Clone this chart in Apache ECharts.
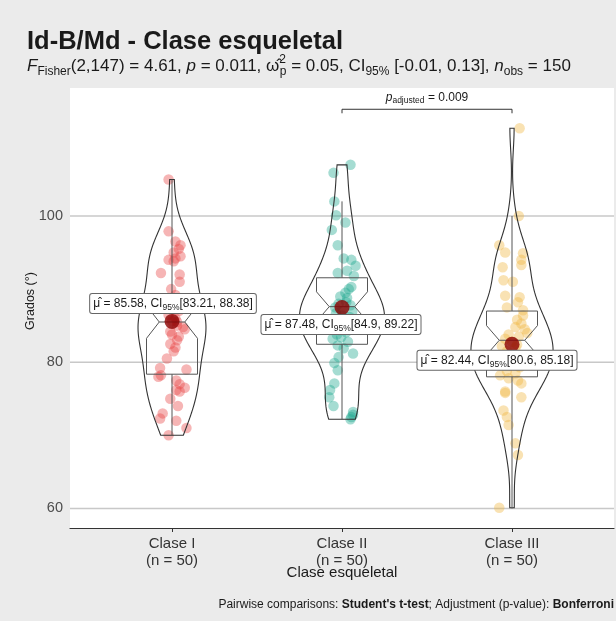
<!DOCTYPE html>
<html>
<head>
<meta charset="utf-8">
<script src="https://cdn.jsdelivr.net/npm/echarts@6/dist/echarts.min.js"></script>
<style>
  html, body { margin: 0; padding: 0; background: #ebebeb; }
  #chart { width: 616px; height: 621px; }
</style>
</head>
<body>
<div id="chart"></div>
<script>
// ---- data ----------------------------------------------------------------
const categories = ['Clase I', 'Clase II', 'Clase III'];
const groupSizes = [50, 50, 50];

// observed angles (degrees) per skeletal class, with their horizontal jitter (category units)
const claseIValues = [105.0, 97.9, 96.5, 96.0, 95.5, 95.0, 94.5, 94.2, 94.0, 93.8,
  92.2, 92.0, 91.0, 90.0, 89.2, 88.5, 88.0, 87.5, 87.0, 86.5,
  86.0, 85.6, 85.5, 85.0, 84.8, 84.5, 84.2, 83.8, 83.5, 83.0,
  82.5, 82.0, 81.5, 80.5, 79.2, 79.0, 78.2, 78.0, 77.5, 77.0,
  76.5, 76.2, 76.0, 75.0, 74.0, 73.0, 72.3, 72.0, 71.0, 70.0];
const claseIJitter = [-0.02, -0.02, 0.02, 0.05, 0.04, 0.01, 0.05, 0.02, -0.02, 0.01,
  -0.065, 0.045, 0.045, -0.005, 0.02, 0.03, -0.03, 0.0, 0.04, -0.02,
  0.02, 0.0, 0.03, 0.03, 0.065, 0.075, -0.01, 0.0, 0.04, 0.03,
  -0.01, 0.02, 0.01, -0.03, -0.07, 0.085, -0.065, -0.08, 0.025, 0.045,
  0.075, 0.025, 0.045, -0.01, 0.035, -0.055, -0.07, 0.025, 0.085, -0.02];

const claseIIValues = [107.0, 105.9, 102.0, 100.1, 99.1, 98.1, 96.0, 94.2, 94.0, 93.2,
  92.5, 92.2, 91.8, 90.3, 90.0, 89.5, 89.0, 88.8, 88.2, 88.0,
  87.8, 87.5, 87.0, 86.9, 86.7, 86.4, 86.2, 85.5, 85.0, 84.8,
  84.4, 84.1, 83.8, 83.4, 83.2, 82.8, 82.3, 81.9, 81.2, 80.7,
  79.9, 78.9, 77.1, 76.2, 75.2, 74.0, 73.2, 72.8, 72.5, 72.2];
const claseIIJitter = [0.05, -0.05, -0.045, -0.035, 0.02, -0.06, -0.025, 0.01, 0.055, 0.08,
  0.03, -0.025, 0.07, 0.055, 0.04, 0.02, -0.01, 0.03, 0.025, -0.02,
  0.05, -0.04, 0.0, 0.06, -0.035, 0.0, 0.045, -0.05, 0.03, -0.055,
  -0.015, 0.025, -0.03, -0.005, -0.055, 0.035, -0.025, 0.01, 0.065, -0.02,
  -0.045, -0.025, -0.045, -0.07, -0.075, -0.05, 0.065, 0.065, 0.055, 0.05];

const claseIIIValues = [112.0, 100.0, 96.0, 95.0, 94.9, 94.0, 93.3, 93.0, 91.2, 91.0,
  89.1, 88.9, 88.2, 87.5, 87.1, 86.4, 85.8, 85.3, 84.8, 84.5,
  84.0, 83.8, 83.5, 83.2, 82.8, 82.4, 82.2, 82.0, 81.5, 81.0,
  80.5, 80.0, 79.9, 79.6, 79.3, 78.8, 78.5, 78.2, 77.8, 77.5,
  77.1, 76.0, 75.8, 75.2, 73.4, 72.5, 71.4, 68.9, 67.3, 60.1];
const claseIIIJitter = [0.045, 0.04, -0.075, -0.04, 0.065, 0.055, 0.055, -0.055, -0.05, 0.005,
  -0.04, 0.045, 0.035, -0.03, 0.065, 0.065, 0.03, 0.055, 0.02, 0.075,
  0.09, -0.02, 0.04, -0.04, 0.0, 0.03, -0.06, 0.02, -0.03, 0.05,
  -0.05, 0.01, -0.07, -0.01, 0.045, -0.03, 0.02, -0.07, -0.02, 0.035,
  0.055, -0.04, -0.04, 0.055, -0.05, -0.03, -0.02, 0.02, 0.035, -0.075];

// group means with 95% confidence intervals
const meanValues = [85.58, 87.48, 82.44];
const ciLow = [83.21, 84.9, 80.6];
const ciHigh = [88.38, 89.22, 85.18];

// box plot statistics
const whiskerLow = [70.0, 72.2, 60.0];
const quartile1 = [78.36, 82.45, 78.0];
const medians = [85.5, 87.6, 83.0];
const quartile3 = [88.36, 91.55, 87.0];
const whiskerHigh = [105.0, 102.0, 100.0];

const yTicks = [60, 80, 100];
const pairwise = [{ from: 1, to: 2, p: '0.009' }];

// ---- layout / style constants ------------------------------------------------
const FONT = 'Liberation Sans, Arial, sans-serif';
const groupColors = ['rgba(233,71,71,0.5)', 'rgba(31,167,143,0.5)', 'rgba(239,183,65,0.5)'];
const labelOffsets = [[1, -18], [-1, 17], [-15, 16]];
const bracketY = 114.6;
const Y_MIN = 57.32, Y_MAX = 117.51;

const groups = [
  { values: claseIValues, jitter: claseIJitter },
  { values: claseIIValues, jitter: claseIIJitter },
  { values: claseIIIValues, jitter: claseIIIJitter }
];

// Gaussian kernel density (Silverman's nrd0 bandwidth), trimmed to the data range
function density(values, steps) {
  const n = values.length;
  const s = values.slice().sort((a, b) => a - b);
  const mean = values.reduce((a, v) => a + v, 0) / n;
  const sd = Math.sqrt(values.reduce((a, v) => a + (v - mean) * (v - mean), 0) / (n - 1));
  const q = p => { const h = (n - 1) * p, lo = Math.floor(h); return s[lo] + (h - lo) * (s[Math.min(lo + 1, n - 1)] - s[lo]); };
  const bw = 0.9 * Math.min(sd, (q(0.75) - q(0.25)) / 1.34) * Math.pow(n, -0.2);
  const out = [];
  for (let i = 0; i < steps; i++) {
    const y = s[0] + (s[n - 1] - s[0]) * i / (steps - 1);
    let d = 0;
    for (const v of values) { const z = (y - v) / bw; d += Math.exp(-0.5 * z * z); }
    out.push([y, d / (n * bw * Math.sqrt(2 * Math.PI))]);
  }
  return out;
}
const densities = groups.map(g => density(g.values, 160));
const maxDensity = Math.max(...densities.map(d => Math.max(...d.map(p => p[1]))));
const VIOLIN_HALF = 0.25, BOX_HALF = 0.15, NOTCH_HALF = 0.075;

const pointSeries = groups.map((g, i) => ({
  type: 'scatter',
  z: 2,
  symbolSize: 10.5,
  itemStyle: { color: groupColors[i] },
  silent: true,
  data: g.values.map((v, k) => [i + g.jitter[k], v])
}));

const chart = echarts.init(document.getElementById('chart'), null, { renderer: 'canvas' });

chart.setOption({
  backgroundColor: '#ebebeb',
  animation: false,
  grid: { left: 70, right: 2, top: 88, bottom: 93, show: true, backgroundColor: '#ffffff', borderWidth: 0 },
  xAxis: {
    type: 'value', min: -0.6, max: 2.6,
    name: 'Clase esqueletal', nameLocation: 'middle', nameGap: 37, nameMoveOverlap: false,
    nameTextStyle: { fontFamily: FONT, fontSize: 15, color: '#1a1a1a' },
    axisLine: { show: true, lineStyle: { color: '#333333', width: 1.2 } },
    axisTick: { show: true, customValues: [0, 1, 2], length: 4, lineStyle: { color: '#333333' } },
    axisLabel: {
      customValues: [0, 1, 2], margin: 8,
      formatter: v => categories[Math.round(v)] + '\n(n = ' + groupSizes[Math.round(v)] + ')',
      fontFamily: FONT, fontSize: 15, lineHeight: 16.5, color: '#333333'
    },
    splitLine: { show: false }
  },
  yAxis: {
    type: 'value', min: Y_MIN, max: Y_MAX,
    name: 'Grados (°)', nameLocation: 'middle', nameGap: 33, nameMoveOverlap: false,
    nameTextStyle: { fontFamily: FONT, fontSize: 12.5, color: '#1a1a1a', padding: [0, 0, 0, 14] },
    axisLine: { show: false },
    axisTick: { show: false },
    axisLabel: { customValues: yTicks, margin: 7, fontFamily: FONT, fontSize: 14.5, color: '#4d4d4d' },
    splitLine: { show: false }
  },
  graphic: [
    {
      type: 'text', x: 27, y: 42,
      style: { text: 'Id-B/Md - Clase esqueletal', font: 'bold 25.5px ' + FONT, fill: '#1a1a1a', verticalAlign: 'middle' }
    },
    {
      type: 'text', x: 27, y: 66,
      style: {
        text: '{i|F}{b|Fisher}{n|(2,147) = 4.61, }{i|p}{n| = 0.011, }{n|ω̂}{sp|2}{b|p}{n| = 0.05, CI}{b|95%}{n| [-0.01, 0.13], }{i|n}{b|obs}{n| = 150}',
        verticalAlign: 'middle',
        rich: {
          n: { fontFamily: FONT, fontSize: 17, fill: '#1a1a1a', lineHeight: 24, verticalAlign: 'middle' },
          i: { fontFamily: FONT, fontSize: 17, fontStyle: 'italic', fill: '#1a1a1a', lineHeight: 24, verticalAlign: 'middle' },
          b: { fontFamily: FONT, fontSize: 12, fill: '#1a1a1a', lineHeight: 24, verticalAlign: 'bottom' },
          sp: { fontFamily: FONT, fontSize: 12, fill: '#1a1a1a', lineHeight: 24, verticalAlign: 'top', width: 0.5 }
        }
      }
    },
    {
      type: 'text', x: 614, y: 605,
      style: {
        text: "{n|Pairwise comparisons: }{b|Student's t-test}{n|; Adjustment (p-value): }{b|Bonferroni}",
        align: 'right', verticalAlign: 'middle',
        rich: {
          n: { fontFamily: FONT, fontSize: 12, fill: '#1a1a1a' },
          b: { fontFamily: FONT, fontSize: 12, fontWeight: 'bold', fill: '#1a1a1a' }
        }
      }
    }
  ],
  series: [
    // horizontal reference lines at the y ticks
    {
      type: 'custom', z: 1, silent: true,
      data: yTicks.map(v => [v]),
      renderItem: (params, api) => {
        const v = api.value(0);
        const a = api.coord([-0.6, v]), b = api.coord([2.6, v]);
        return { type: 'line', shape: { x1: a[0], y1: a[1], x2: b[0], y2: b[1] }, style: { stroke: '#c8c8c8', lineWidth: 1.5 } };
      }
    },
    ...pointSeries,
    // violins
    {
      type: 'custom', z: 3, silent: true,
      data: categories.map((c, i) => [i]),
      renderItem: (params, api) => {
        const g = params.dataIndex;
        const d = densities[g];
        const right = d.map(p => api.coord([g + VIOLIN_HALF * p[1] / maxDensity, p[0]]));
        const left = d.slice().reverse().map(p => api.coord([g - VIOLIN_HALF * p[1] / maxDensity, p[0]]));
        return { type: 'polygon', shape: { points: right.concat(left) }, style: { fill: 'none', stroke: '#333333', lineWidth: 1.1 } };
      }
    },
    // notched box plots
    {
      type: 'custom', z: 4, silent: true,
      data: categories.map((c, i) => [i]),
      renderItem: (params, api) => {
        const g = params.dataIndex;
        const q1 = quartile1[g], q3 = quartile3[g], med = medians[g];
        const notch = 1.58 * (q3 - q1) / Math.sqrt(groupSizes[g]);
        const c = (x, y) => api.coord([g + x, y]);
        const box = [
          c(-BOX_HALF, q3), c(BOX_HALF, q3), c(BOX_HALF, med + notch), c(NOTCH_HALF, med),
          c(BOX_HALF, med - notch), c(BOX_HALF, q1), c(-BOX_HALF, q1), c(-BOX_HALF, med - notch),
          c(-NOTCH_HALF, med), c(-BOX_HALF, med + notch)
        ];
        const st = { stroke: '#555555', lineWidth: 1, fill: 'none' };
        const seg = (p1, p2) => ({ type: 'line', shape: { x1: p1[0], y1: p1[1], x2: p2[0], y2: p2[1] }, style: st });
        return {
          type: 'group',
          children: [
            seg(c(0, q3), c(0, whiskerHigh[g])),
            seg(c(0, q1), c(0, whiskerLow[g])),
            { type: 'polygon', shape: { points: box }, style: st },
            seg(c(-NOTCH_HALF, med), c(NOTCH_HALF, med))
          ]
        };
      }
    },
    // group means
    {
      type: 'scatter', z: 5, silent: true,
      symbolSize: 15,
      itemStyle: { color: '#8b0000' },
      data: meanValues.map((m, i) => [i, m])
    },
    // mean labels
    {
      type: 'custom', z: 6, silent: true,
      data: meanValues.map((m, i) => [i, m]),
      renderItem: (params, api) => {
        const g = params.dataIndex;
        const p = api.coord([api.value(0), api.value(1)]);
        return {
          type: 'text',
          x: p[0] + labelOffsets[g][0], y: p[1] + labelOffsets[g][1],
          style: {
            text: '{t|μ̂ = ' + meanValues[g].toFixed(2) + ', CI}{s|95%}{t|[' + ciLow[g] + ', ' + ciHigh[g] + ']}',
            align: 'center', verticalAlign: 'middle',
            backgroundColor: '#ffffff', borderColor: '#666666', borderWidth: 1, borderRadius: 2,
            padding: [2, 3, 1, 3],
            rich: {
              t: { fontFamily: FONT, fontSize: 12, fill: '#1a1a1a', lineHeight: 16, verticalAlign: 'middle' },
              s: { fontFamily: FONT, fontSize: 8.5, fill: '#1a1a1a', lineHeight: 16, verticalAlign: 'bottom' }
            }
          }
        };
      }
    },
    // pairwise comparison bracket
    {
      type: 'custom', z: 6, silent: true,
      data: pairwise.map(p => [p.from, p.to]),
      renderItem: (params, api) => {
        const pr = pairwise[params.dataIndex];
        const a = api.coord([pr.from, bracketY]), b = api.coord([pr.to, bracketY]);
        return {
          type: 'group',
          children: [
            { type: 'polyline', shape: { points: [[a[0], a[1] + 4], a, b, [b[0], b[1] + 4]] }, style: { stroke: '#333333', lineWidth: 1, fill: 'none' } },
            {
              type: 'text', x: (a[0] + b[0]) / 2, y: a[1] - 12,
              style: {
                text: '{i|p}{s|adjusted}{n| = ' + pr.p + '}',
                align: 'center', verticalAlign: 'middle',
                rich: {
                  i: { fontFamily: FONT, fontSize: 12, fontStyle: 'italic', fill: '#1a1a1a', lineHeight: 16, verticalAlign: 'middle' },
                  s: { fontFamily: FONT, fontSize: 8.5, fill: '#1a1a1a', lineHeight: 16, verticalAlign: 'bottom' },
                  n: { fontFamily: FONT, fontSize: 12, fill: '#1a1a1a', lineHeight: 16, verticalAlign: 'middle' }
                }
              }
            }
          ]
        };
      }
    }
  ]
});
</script>
</body>
</html>
